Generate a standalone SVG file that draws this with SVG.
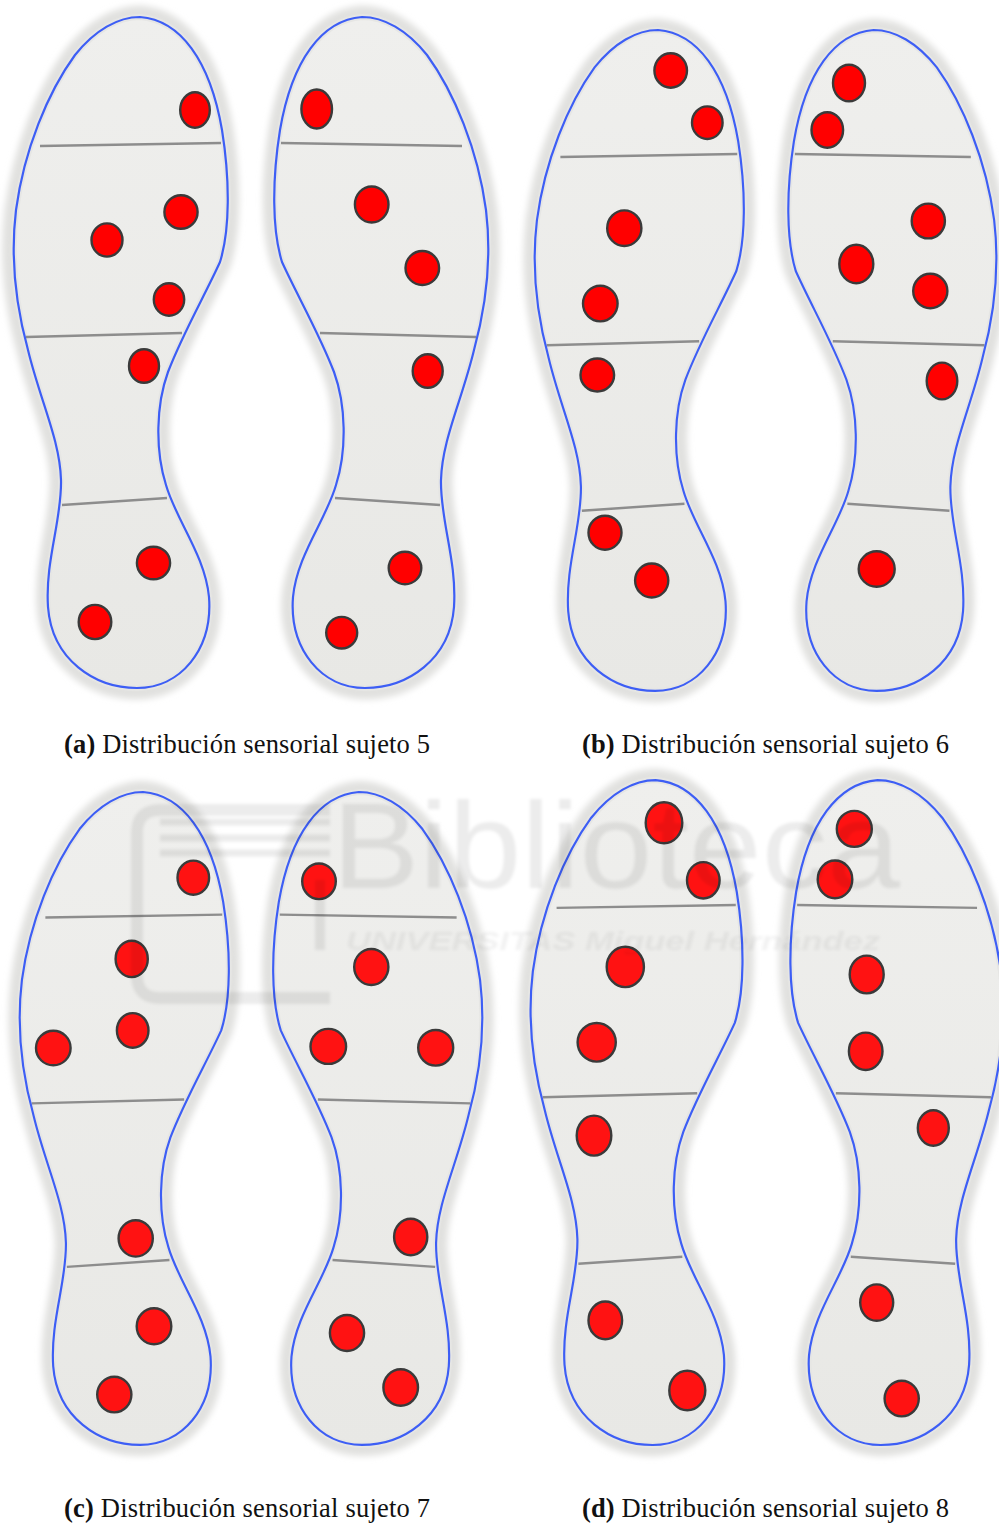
<svg xmlns="http://www.w3.org/2000/svg" xmlns:xlink="http://www.w3.org/1999/xlink" width="999" height="1524" viewBox="0 0 999 1524">
  <style>
    .dot { fill: #ff0000; stroke: #3a3a3a; stroke-width: 2.4; }
    .dot2 { fill: #ff1212; stroke: #3a3a3a; stroke-width: 2.4; }
    .caption { font-family: "Liberation Serif", "DejaVu Serif", serif; font-size: 26.5px; fill: #111111; }
    .tag { font-weight: bold; }
    .wm-text { font-family: "Liberation Sans", "DejaVu Sans", sans-serif; fill: #000000; }
  </style>
  <defs>
    <filter id="soft" x="-20%" y="-10%" width="140%" height="120%">
      <feGaussianBlur stdDeviation="3.2"/>
    </filter>
    <filter id="wmblur" x="-5%" y="-20%" width="110%" height="140%">
      <feGaussianBlur stdDeviation="1.6"/>
    </filter>
    <linearGradient id="soleFill" x1="0" y1="0" x2="0" y2="1">
      <stop offset="0" stop-color="#efefed"/>
      <stop offset="1" stop-color="#e8e8e5"/>
    </linearGradient>
    <!-- insole outline, drawn for the left shoe of a pair -->
    <path id="sole-outline" d="M140,17 C180,20 210,60 222,130 C230,180 230,230 220,262 C205,295 182,335 168,372 C156,405 155,450 166,485 C176,520 205,555 209,597 C213,650 180,688 137,688 C95,688 52,660 48,607 C45,560 62,520 61,480 C60,440 40,400 28,350 C17,310 10,260 16,210 C24,150 48,92 75,55 C95,30 118,17 140,17 Z"/>
    <g id="sole">
      <use href="#sole-outline" fill="#e1e1df" stroke="#e1e1df" stroke-width="23" filter="url(#soft)"/>
      <use href="#sole-outline" fill="url(#soleFill)" stroke="#e6e6e4" stroke-width="6"/>
      <path d="M40,146 L221,143 M26,337 L182,333 M62,505 L167,498" fill="none" stroke="#8d8d8d" stroke-width="2.5"/>
      <use href="#sole-outline" fill="none" stroke="#3d5ef5" stroke-width="2.2"/>
    </g>
  </defs>

  <rect x="0" y="0" width="999" height="1524" fill="#ffffff"/>

  <!-- (a) subject 5 -->
  <g id="sole-a-left">
    <use href="#sole"/>
    <ellipse class="dot" cx="195" cy="110" rx="14.8" ry="17.8"/>
    <ellipse class="dot" cx="181" cy="212" rx="16.6" ry="16.8"/>
    <ellipse class="dot" cx="107" cy="240" rx="15.5" ry="16.6"/>
    <ellipse class="dot" cx="169" cy="299.5" rx="15.2" ry="16.3"/>
    <ellipse class="dot" cx="144" cy="366" rx="15" ry="16.8"/>
    <ellipse class="dot" cx="153.5" cy="563" rx="16.6" ry="16.3"/>
    <ellipse class="dot" cx="95" cy="622" rx="16.3" ry="17.1"/>
  </g>
  <g id="sole-a-right">
    <use href="#sole" transform="matrix(-1,0,0,1,502,0)"/>
    <ellipse class="dot" cx="316.7" cy="109" rx="15.3" ry="19.5"/>
    <ellipse class="dot" cx="371.7" cy="204.5" rx="16.8" ry="18"/>
    <ellipse class="dot" cx="422.3" cy="268" rx="16.8" ry="17"/>
    <ellipse class="dot" cx="427.7" cy="371" rx="15" ry="16.8"/>
    <ellipse class="dot" cx="405" cy="568" rx="16.3" ry="16.3"/>
    <ellipse class="dot" cx="341.7" cy="632.7" rx="15.5" ry="15.8"/>
  </g>

  <!-- (b) subject 6 -->
  <g id="sole-b-left">
    <use href="#sole" transform="matrix(0.977,0,0,0.985,521.3,13.25)"/>
    <ellipse class="dot" cx="670.7" cy="70.5" rx="16.3" ry="17.2"/>
    <ellipse class="dot" cx="707.3" cy="122.7" rx="15.3" ry="16.3"/>
    <ellipse class="dot" cx="624.3" cy="228.2" rx="17.1" ry="17.8"/>
    <ellipse class="dot" cx="600.3" cy="303.6" rx="17.3" ry="17.8"/>
    <ellipse class="dot" cx="597.3" cy="375" rx="16.8" ry="16.5"/>
    <ellipse class="dot" cx="605" cy="532.7" rx="16.5" ry="17"/>
    <ellipse class="dot" cx="651.7" cy="580.5" rx="16.6" ry="17"/>
  </g>
  <g id="sole-b-right">
    <use href="#sole" transform="matrix(-0.972,0,0,0.985,1009.7,13.25)"/>
    <ellipse class="dot" cx="849" cy="83" rx="16" ry="18.3"/>
    <ellipse class="dot" cx="827.3" cy="130" rx="15.8" ry="17.7"/>
    <ellipse class="dot" cx="928.3" cy="221" rx="16.6" ry="17.4"/>
    <ellipse class="dot" cx="856.3" cy="264" rx="17" ry="19.2"/>
    <ellipse class="dot" cx="930.3" cy="291" rx="17.1" ry="17.2"/>
    <ellipse class="dot" cx="942" cy="381" rx="15.3" ry="18.4"/>
    <ellipse class="dot" cx="876.7" cy="569" rx="18" ry="17.7"/>
  </g>

  <!-- (c) subject 7 -->
  <g id="sole-c-left">
    <use href="#sole" transform="matrix(0.977,0,0,0.973,6.3,775.5)"/>
    <ellipse class="dot2" cx="193.3" cy="877.7" rx="15.8" ry="17.1"/>
    <ellipse class="dot2" cx="131.7" cy="958.9" rx="16.1" ry="18.2"/>
    <ellipse class="dot2" cx="132.7" cy="1030.4" rx="15.8" ry="17.3"/>
    <ellipse class="dot2" cx="53.3" cy="1048" rx="17.3" ry="17.3"/>
    <ellipse class="dot2" cx="135.7" cy="1238.4" rx="17.1" ry="18.2"/>
    <ellipse class="dot2" cx="154" cy="1326.3" rx="17.3" ry="18"/>
    <ellipse class="dot2" cx="114.3" cy="1394.6" rx="17.1" ry="17.8"/>
  </g>
  <g id="sole-c-right">
    <use href="#sole" transform="matrix(-0.977,0,0,0.973,495.7,775.5)"/>
    <ellipse class="dot2" cx="319" cy="881.3" rx="16.8" ry="17.8"/>
    <ellipse class="dot2" cx="371.3" cy="967" rx="17.1" ry="18"/>
    <ellipse class="dot2" cx="328.3" cy="1046.4" rx="17.8" ry="17.5"/>
    <ellipse class="dot2" cx="435.7" cy="1047.8" rx="17.5" ry="17.8"/>
    <ellipse class="dot2" cx="410.7" cy="1237" rx="16.6" ry="18.2"/>
    <ellipse class="dot2" cx="347" cy="1333" rx="17.1" ry="18"/>
    <ellipse class="dot2" cx="400.7" cy="1387.5" rx="17.3" ry="18.2"/>
  </g>

  <!-- (d) subject 8 -->
  <g id="sole-d-left">
    <use href="#sole" transform="matrix(0.99,0,0,0.991,517,763.2)"/>
    <ellipse class="dot2" cx="664" cy="822.7" rx="18.3" ry="20.5"/>
    <ellipse class="dot2" cx="703.3" cy="880.3" rx="16.3" ry="18.2"/>
    <ellipse class="dot2" cx="625.3" cy="966.9" rx="18.6" ry="20.2"/>
    <ellipse class="dot2" cx="596.7" cy="1042.3" rx="19.1" ry="19.3"/>
    <ellipse class="dot2" cx="594" cy="1135.6" rx="17.3" ry="20"/>
    <ellipse class="dot2" cx="605.3" cy="1320.4" rx="16.8" ry="18.9"/>
    <ellipse class="dot2" cx="687.3" cy="1390.5" rx="18" ry="19.8"/>
  </g>
  <g id="sole-d-right">
    <use href="#sole" transform="matrix(-0.994,0,0,0.991,1016.8,763.2)"/>
    <ellipse class="dot2" cx="854.3" cy="828.9" rx="17.5" ry="18"/>
    <ellipse class="dot2" cx="835" cy="879.4" rx="17.3" ry="18.9"/>
    <ellipse class="dot2" cx="866.7" cy="974.5" rx="17" ry="18.9"/>
    <ellipse class="dot2" cx="865.7" cy="1051.3" rx="16.8" ry="18.7"/>
    <ellipse class="dot2" cx="933.3" cy="1128" rx="15.5" ry="17.8"/>
    <ellipse class="dot2" cx="876.7" cy="1302.6" rx="16.5" ry="18.2"/>
    <ellipse class="dot2" cx="901.7" cy="1398.6" rx="17.1" ry="17.8"/>
  </g>

  <!-- captions -->
  <g id="captions">
    <text class="caption" x="64" y="753" textLength="366"><tspan class="tag">(a)</tspan> Distribución sensorial sujeto 5</text>
    <text class="caption" x="582" y="753" textLength="367"><tspan class="tag">(b)</tspan> Distribución sensorial sujeto 6</text>
    <text class="caption" x="64" y="1517" textLength="366"><tspan class="tag">(c)</tspan> Distribución sensorial sujeto 7</text>
    <text class="caption" x="582" y="1517" textLength="367"><tspan class="tag">(d)</tspan> Distribución sensorial sujeto 8</text>
  </g>

  <!-- library watermark -->
  <g id="watermark" filter="url(#wmblur)">
    <g opacity="0.075">
      <path d="M330,810 H160 Q137,810 137,833 V975 Q137,998 160,998 H330" fill="none" stroke="#000" stroke-width="12"/>
      <path d="M160,822 H330 M160,838 H330 M160,853 H330" fill="none" stroke="#000" stroke-width="7"/>
      <path d="M320,880 V950" fill="none" stroke="#000" stroke-width="10"/>
      <text class="wm-text" x="332" y="888" font-size="122" textLength="568" lengthAdjust="spacingAndGlyphs">Biblioteca</text>
    </g>
    <text class="wm-text" x="346" y="950" font-size="25" font-weight="bold" font-style="italic" textLength="534" lengthAdjust="spacingAndGlyphs" opacity="0.05">UNIVERSITAS Miguel Hernández</text>
  </g>
</svg>
